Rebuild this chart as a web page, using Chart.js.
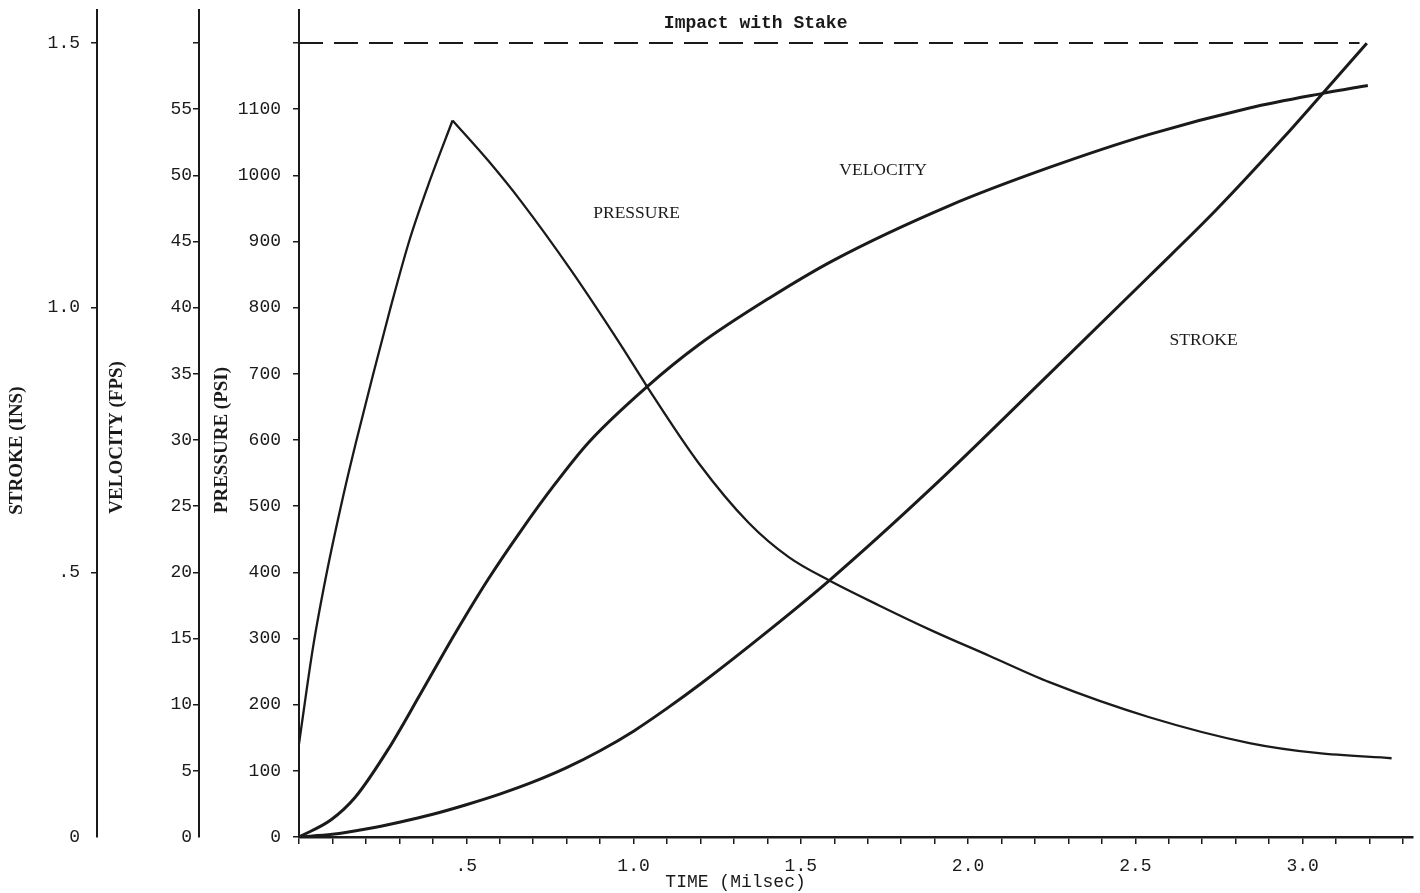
<!DOCTYPE html>
<html>
<head>
<meta charset="utf-8">
<title>Stroke, velocity and pressure vs time</title>
<script src="https://cdn.jsdelivr.net/npm/chart.js@4"></script>
<style>
  html, body { margin: 0; padding: 0; background: #fff; }
  #wrap { width: 1420px; height: 893px; }
</style>
</head>
<body>
<div id="wrap"><canvas id="chart" width="1420" height="893"></canvas></div>
<script>
// time in milliseconds
const pressureRise = [
    [0, 141], [0.042, 287], [0.082, 397], [0.132, 515], [0.172, 600],
    [0.222, 700], [0.272, 797], [0.332, 905], [0.391, 992], [0.459, 1083]
];
const pressureFall = [
    [0.459, 1083], [0.566, 1022], [0.665, 960], [0.814, 856], [0.964, 742],
    [1.039, 682], [1.195, 565], [1.344, 475], [1.464, 423], [1.584, 388],
    [1.734, 350], [1.892, 312], [2.063, 274], [2.243, 234], [2.542, 181],
    [2.841, 142], [3.042, 127], [3.266, 119]
];
const velocity = [
    [0, 0], [0.096, 1.3], [0.168, 3.0], [0.266, 6.6], [0.365, 10.9],
    [0.467, 15.4], [0.566, 19.5], [0.665, 23.2], [0.766, 26.7], [0.865, 29.8],
    [1.039, 34.0], [1.195, 37.2], [1.404, 40.7], [1.599, 43.6], [1.943, 47.7],
    [2.243, 50.6], [2.542, 53.1], [2.841, 55.1], [3.06, 56.2], [3.195, 56.8]
];
const stroke = [
    [0, 0], [0.1, 0.005], [0.2, 0.015], [0.3, 0.028], [0.4, 0.043],
    [0.5, 0.061], [0.6, 0.081], [0.7, 0.104], [0.8, 0.131], [0.9, 0.163],
    [1.0, 0.2], [1.1, 0.243], [1.2, 0.289], [1.4, 0.388], [1.584, 0.484],
    [1.892, 0.66], [2.243, 0.875], [2.542, 1.06], [2.742, 1.185], [2.941, 1.32],
    [3.056, 1.402], [3.192, 1.4995]
];
const impactStroke = 1.5;
const impactTimes = [0, 3.17];

const ink = '#1a1a1a';
const mono = '"Liberation Mono", "DejaVu Sans Mono", monospace';
const serif = '"Liberation Serif", "DejaVu Serif", serif';

// free text on the plot, placed in data units (time, psi)
const plotTexts = [
    { text: 'Impact with Stake', t: 1.365, p: 1229, font: 'bold 18px ' + mono },
    { text: 'PRESSURE', t: 1.009, p: 942, font: '17.5px ' + serif },
    { text: 'VELOCITY', t: 1.746, p: 1007, font: '17.5px ' + serif },
    { text: 'STROKE', t: 2.704, p: 750, font: '17.5px ' + serif }
];

// rotated axis titles: axis id, text, value at the centre of the text, distance from axis box left
const axisTitles = [
    { axis: 'yS', text: 'STROKE (INS)', at: 0.73, dx: 17 },
    { axis: 'yV', text: 'VELOCITY (FPS)', at: 30.2, dx: 20 },
    { axis: 'yP', text: 'PRESSURE (PSI)', at: 600, dx: 23 }
];

const toXY = arr => arr.map(d => ({ x: d[0], y: d[1] }));

const textPlugin = {
    id: 'plotTexts',
    afterDatasetsDraw(chart) {
        const ctx = chart.ctx;
        const xs = chart.scales.x;
        const yp = chart.scales.yP;
        ctx.save();
        ctx.fillStyle = ink;
        ctx.textAlign = 'center';
        ctx.textBaseline = 'middle';
        plotTexts.forEach(l => {
            ctx.font = l.font;
            ctx.fillText(l.text, xs.getPixelForValue(l.t), yp.getPixelForValue(l.p));
        });

        // x title sits left of centre in the original
        ctx.font = '18px ' + mono;
        ctx.fillText('TIME (Milsec)', xs.getPixelForValue(1.305), xs.bottom - 11);

        ctx.font = 'bold 19px ' + serif;
        axisTitles.forEach(a => {
            const s = chart.scales[a.axis];
            ctx.save();
            ctx.translate(s.left + a.dx, s.getPixelForValue(a.at));
            ctx.rotate(-Math.PI / 2);
            ctx.fillText(a.text, 0, 0);
            ctx.restore();
        });
        ctx.restore();
    }
};

const lineDefaults = {
    borderColor: ink,
    pointRadius: 0,
    fill: false,
    cubicInterpolationMode: 'monotone'
};

function yAxis(weight, width, max, step, tickPad, markZero, cb) {
    return {
        type: 'linear',
        position: 'left',
        weight: weight,
        min: 0,
        max: max,
        border: { display: true, color: ink, width: 2 },
        grid: {
            drawOnChartArea: false,
            drawTicks: true,
            tickLength: 6,
            lineWidth: 1.5,
            color: ink,
            tickColor: c => (!markZero && c.tick && c.tick.value === 0) ? 'rgba(0,0,0,0)' : ink
        },
        ticks: {
            stepSize: step,
            includeBounds: false,
            autoSkip: false,
            padding: tickPad,
            color: ink,
            font: { family: mono, size: 18 },
            callback: cb
        },
        afterFit: s => {
            s.width = width;
            // labels never reach the ends, so no extra room above/below
            s.paddingTop = 0;
            s.paddingBottom = 0;
        }
    };
}

new Chart(document.getElementById('chart'), {
    type: 'line',
    data: {
        datasets: [
            { ...lineDefaults, data: toXY(pressureRise), yAxisID: 'yP', borderWidth: 2.3 },
            { ...lineDefaults, data: toXY(pressureFall), yAxisID: 'yP', borderWidth: 2.3 },
            { ...lineDefaults, data: toXY(velocity), yAxisID: 'yV', borderWidth: 3 },
            { ...lineDefaults, data: toXY(stroke), yAxisID: 'yS', borderWidth: 3 },
            {
                ...lineDefaults,
                data: impactTimes.map(t => ({ x: t, y: impactStroke })),
                yAxisID: 'yS',
                borderWidth: 2,
                borderDash: [24, 11]
            }
        ]
    },
    options: {
        responsive: false,
        animation: false,
        events: [],
        layout: { padding: { top: 10, right: 7, left: 0, bottom: 0 } },
        plugins: {
            legend: { display: false },
            tooltip: { enabled: false }
        },
        scales: {
            x: {
                type: 'linear',
                position: 'bottom',
                min: 0,
                max: 3.33,
                border: { display: true, color: ink, width: 2.5 },
                grid: { drawOnChartArea: false, drawTicks: true, tickLength: 7, color: ink, lineWidth: 1.5 },
                ticks: {
                    stepSize: 0.1,
                    includeBounds: false,
                    autoSkip: false,
                    maxRotation: 0,
                    padding: 11,
                    color: ink,
                    font: { family: mono, size: 18 },
                    callback: v => {
                        const k = Math.round(v * 10);
                        if (k > 0 && k % 5 === 0) return k < 10 ? '.5' : (k / 10).toFixed(1);
                        return '';
                    }
                },
                afterFit: s => { s.height = 56; }
            },
            yS: yAxis(3, 97, 1.5625, 0.5, 11, false,
                v => v === 0 ? '0' : (v < 1 ? '.5' : v.toFixed(1))),
            yV: yAxis(2, 102, 62.5, 5, 1, false,
                v => v === 60 ? '' : String(v)),
            yP: yAxis(1, 100, 1250, 100, 12, true,
                v => v === 1200 ? '' : String(v))
        }
    },
    plugins: [textPlugin]
});
</script>
</body>
</html>
